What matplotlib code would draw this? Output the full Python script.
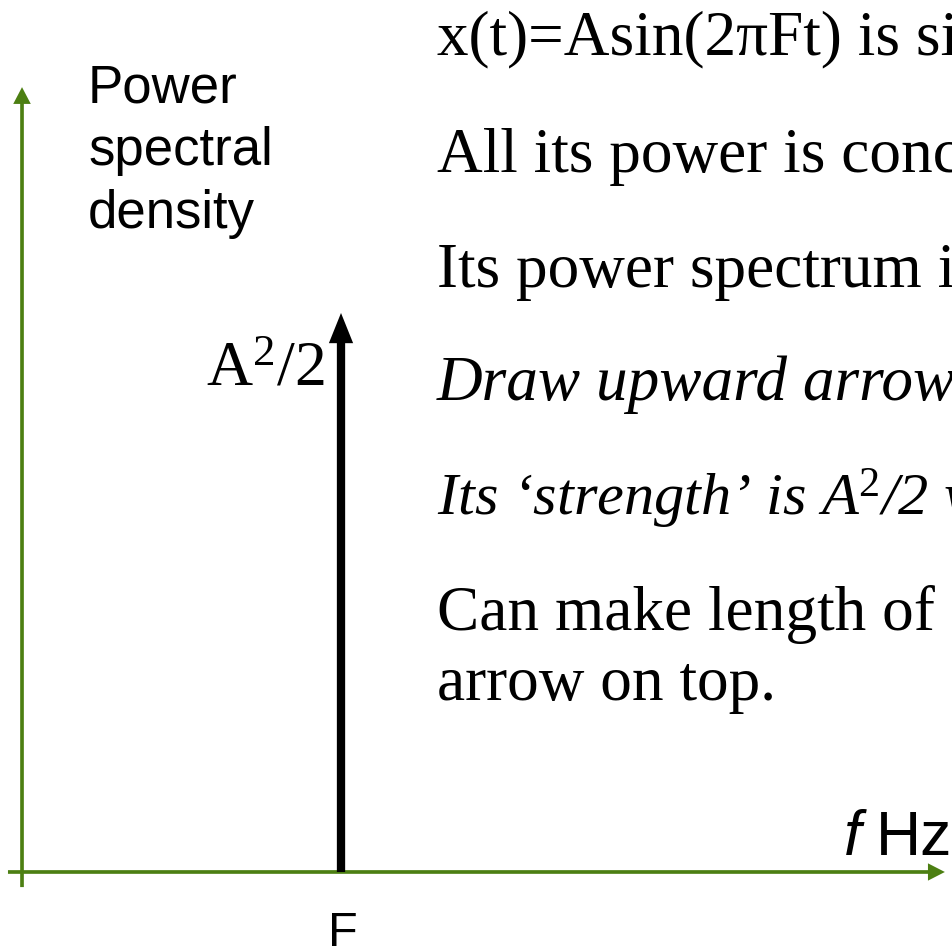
"""Power spectral density of a pure sinusoid: a single impulse at F."""

import matplotlib

matplotlib.use("Agg")
import matplotlib.pyplot as plt

plt.rcParams["mathtext.fontset"] = "custom"
plt.rcParams["mathtext.rm"] = "Liberation Serif"
plt.rcParams["mathtext.it"] = "Liberation Serif:italic"

# Spectrum of x(t) = A sin(2*pi*F*t): one spike at F with strength A^2/2
spike_freqs = [1.0]
spike_strengths = [1.0]
spike_labels = ["F"]
strength_labels = [r"A$^{\mathrm{2}}$/2"]

# Extent of the drawn frequency / PSD axes (in units of F and A^2/2)
freq_axis = [-0.044, 2.893]
psd_axis = [-0.027, 1.404]

psd_label_lines = ["Power", "spectral", "density"]

# (text, style, font size)
notes = [
    ("x(t)=Asin(2πFt) is sinusoidal", "normal", 45.5),
    ("All its power is concentrated at F Hz", "normal", 45.5),
    ("Its power spectrum is an impulse at F", "normal", 45.5),
    ("Draw upward arrow at F", "italic", 45.5),
    (r"Its ‘strength’ is A$^{\mathit{2}}$/2 watts", "italic", 43.5),
    ("Can make length of arrow = A²/2, or write A²/2 by the", "normal", 45.5),
    ("arrow on top.", "normal", 45.5),
]

GREEN = "#4c7f12"
SERIF = "Liberation Serif"
SANS = "Liberation Sans"

fig = plt.figure(figsize=(9.53, 9.46), dpi=100)
ax = fig.add_axes([0, 0, 1, 1])
ax.set_xlim(-0.069, 2.9185)
ax.set_ylim(-0.1324, 1.5599)
ax.axis("off")

# Frequency and PSD axes with arrow heads
ax.arrow(
    0, psd_axis[0], 0, psd_axis[1] - psd_axis[0],
    width=0.0115, head_width=0.055, head_length=0.03,
    length_includes_head=True, color=GREEN, lw=0,
)
ax.arrow(
    freq_axis[0], 0, freq_axis[1] - freq_axis[0], 0,
    width=0.0066, head_width=0.031, head_length=0.053,
    length_includes_head=True, color=GREEN, lw=0,
)

# Impulses
for f, s, fl, sl in zip(spike_freqs, spike_strengths, spike_labels, strength_labels):
    ax.arrow(
        f, 0, 0, s,
        width=0.026, head_width=0.076, head_length=0.054,
        length_includes_head=True, color="black", lw=0, zorder=3,
    )
    ax.text(f + 0.007, -0.07, fl, family=SANS, fontsize=35,
            ha="center", va="top")
    ax.text(f - 0.05, 0.871 * s, sl, family=SERIF, fontsize=46,
            ha="right", va="baseline")

# Axis labels
for i, line in enumerate(psd_label_lines):
    ax.text(0.207, 1.3757 - 0.1117 * i, line, family=SANS, fontsize=38,
            va="baseline")
ax.text(2.578, 0.030, "f", family=SANS, style="italic", fontsize=45,
        va="baseline")
ax.text(2.677, 0.030, "Hz", family=SANS, fontsize=45, va="baseline")

# Notes on the right
baselines = [1.4615, 1.2522, 1.0465, 0.8444, 0.6386, 0.4329, 0.3077]
for (line, style, size), y in zip(notes, baselines):
    ax.text(1.301, y, line, family=SERIF, style=style, fontsize=size,
            va="baseline")

fig.savefig("out.png", dpi=100)
